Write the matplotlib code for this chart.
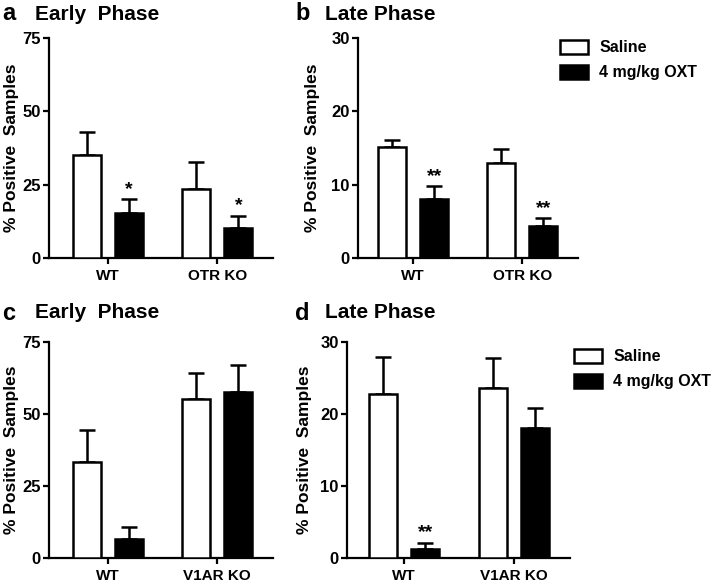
import matplotlib
matplotlib.use("Agg")
import matplotlib.pyplot as plt
import numpy as np

plt.rcParams['font.family'] = ['Liberation Sans', 'DejaVu Sans']
plt.rcParams['font.weight'] = 'bold'

treatments = ['Saline', '4 mg/kg OXT']

groups_ab = ['WT', 'OTR KO']
groups_cd = ['WT', 'V1AR KO']

a_saline = [35.0, 23.5]
a_saline_err = [8.0, 9.2]
a_oxt = [15.2, 10.2]
a_oxt_err = [4.8, 4.2]
a_stars = ['*', '*']

b_saline = [15.2, 13.0]
b_saline_err = [0.9, 1.9]
b_oxt = [8.0, 4.3]
b_oxt_err = [1.8, 1.1]
b_stars = ['**', '**']

c_saline = [33.3, 55.3]
c_saline_err = [11.0, 8.8]
c_oxt = [6.6, 57.8]
c_oxt_err = [4.2, 9.3]
c_stars = ['', '']

d_saline = [22.8, 23.6]
d_saline_err = [5.1, 4.2]
d_oxt = [1.25, 18.0]
d_oxt_err = [0.85, 2.8]
d_stars = ['**', '']

W, H = 720, 582
fig = plt.figure(figsize=(7.2, 5.82), dpi=100)

def ax_px(l, r, top, bot):
    return fig.add_axes([l / W, (H - bot) / H, (r - l) / W, (bot - top) / H])

LW = 1.8

def panel(ax, groups, sal, sal_err, oxt, oxt_err, stars, ymax, yticks, xlim):
    x = np.arange(1, len(groups) + 1)
    off = 0.193
    bw = 0.257
    b1 = ax.bar(x - off, sal, bw, color='white', edgecolor='black', linewidth=LW, zorder=3)
    ax.errorbar(x - off, sal, yerr=[np.zeros(len(sal)), sal_err], fmt='none',
                ecolor='black', elinewidth=LW, capsize=6, capthick=LW, zorder=2)
    b2 = ax.bar(x + off, oxt, bw, color='black', edgecolor='black', linewidth=LW, zorder=3)
    ax.errorbar(x + off, oxt, yerr=[np.zeros(len(oxt)), oxt_err], fmt='none',
                ecolor='black', elinewidth=LW, capsize=6, capthick=LW, zorder=2)
    for xi, v, e, s in zip(x + off, oxt, oxt_err, stars):
        if s:
            ax.annotate(s, (xi, v + e), xytext=(0, 1), textcoords='offset points',
                        ha='center', va='bottom', fontsize=14, fontweight='bold')
    ax.set_ylim(0, ymax)
    ax.set_xlim(*xlim)
    ax.set_yticks(yticks)
    ax.set_xticks(x)
    ax.set_xticklabels(groups, fontsize=11, fontweight='bold')
    for lab in ax.get_yticklabels():
        lab.set_fontsize(12)
        lab.set_fontweight('bold')
    ax.spines['top'].set_visible(False)
    ax.spines['right'].set_visible(False)
    ax.spines['left'].set_linewidth(1.6)
    ax.spines['bottom'].set_linewidth(1.6)
    ax.tick_params(axis='both', direction='out', length=4, width=1.6, pad=2)
    ax.tick_params(axis='x', pad=4)
    ax.set_ylabel('% Positive  Samples', fontsize=12.5, fontweight='bold')
    return b1, b2

axa = ax_px(49, 273, 38, 258)
panel(axa, groups_ab, a_saline, a_saline_err, a_oxt, a_oxt_err, a_stars, 75, [0, 25, 50, 75], (0.459, 2.51))
axb = ax_px(358, 578, 38, 258)
hb = panel(axb, groups_ab, b_saline, b_saline_err, b_oxt, b_oxt_err, b_stars, 30, [0, 10, 20, 30], (0.495, 2.51))
axc = ax_px(49, 273, 342, 558)
panel(axc, groups_cd, c_saline, c_saline_err, c_oxt, c_oxt_err, c_stars, 75, [0, 25, 50, 75], (0.459, 2.51))
axd = ax_px(347, 570, 342, 558)
hd = panel(axd, groups_cd, d_saline, d_saline_err, d_oxt, d_oxt_err, d_stars, 30, [0, 10, 20, 30], (0.48, 2.51))

for ax in (axa, axc):
    ax.yaxis.set_label_coords(-30 / 224, 0.5)
axb.yaxis.set_label_coords(-38 / 220, 0.5)
axd.yaxis.set_label_coords(-35 / 223, 0.5)

def legend_at(handles, x, y):
    fig.legend(handles, treatments, loc='upper left', bbox_to_anchor=(x / W, 1 - y / H),
               frameon=False, prop={'size': 11.5, 'weight': 'bold'},
               handlelength=1.75, handleheight=0.95, labelspacing=0.6,
               handletextpad=0.7, borderaxespad=0, borderpad=0)

legend_at(hb, 560, 40)
legend_at(hd, 574, 349)

def header(letter, title, xl, xt, y):
    fig.text(xl / W, 1 - y / H, letter, fontsize=17, fontweight='bold', va='center', ha='left')
    fig.text(xt / W, 1 - y / H, title, fontsize=15, fontweight='bold', va='center', ha='left')

header('a', 'Early  Phase', 2, 35, 14)
header('b', 'Late Phase', 295, 325, 14)
header('c', 'Early  Phase', 2, 35, 313)
header('d', 'Late Phase', 295, 325, 313)

fig.savefig('out.png', dpi=100)
